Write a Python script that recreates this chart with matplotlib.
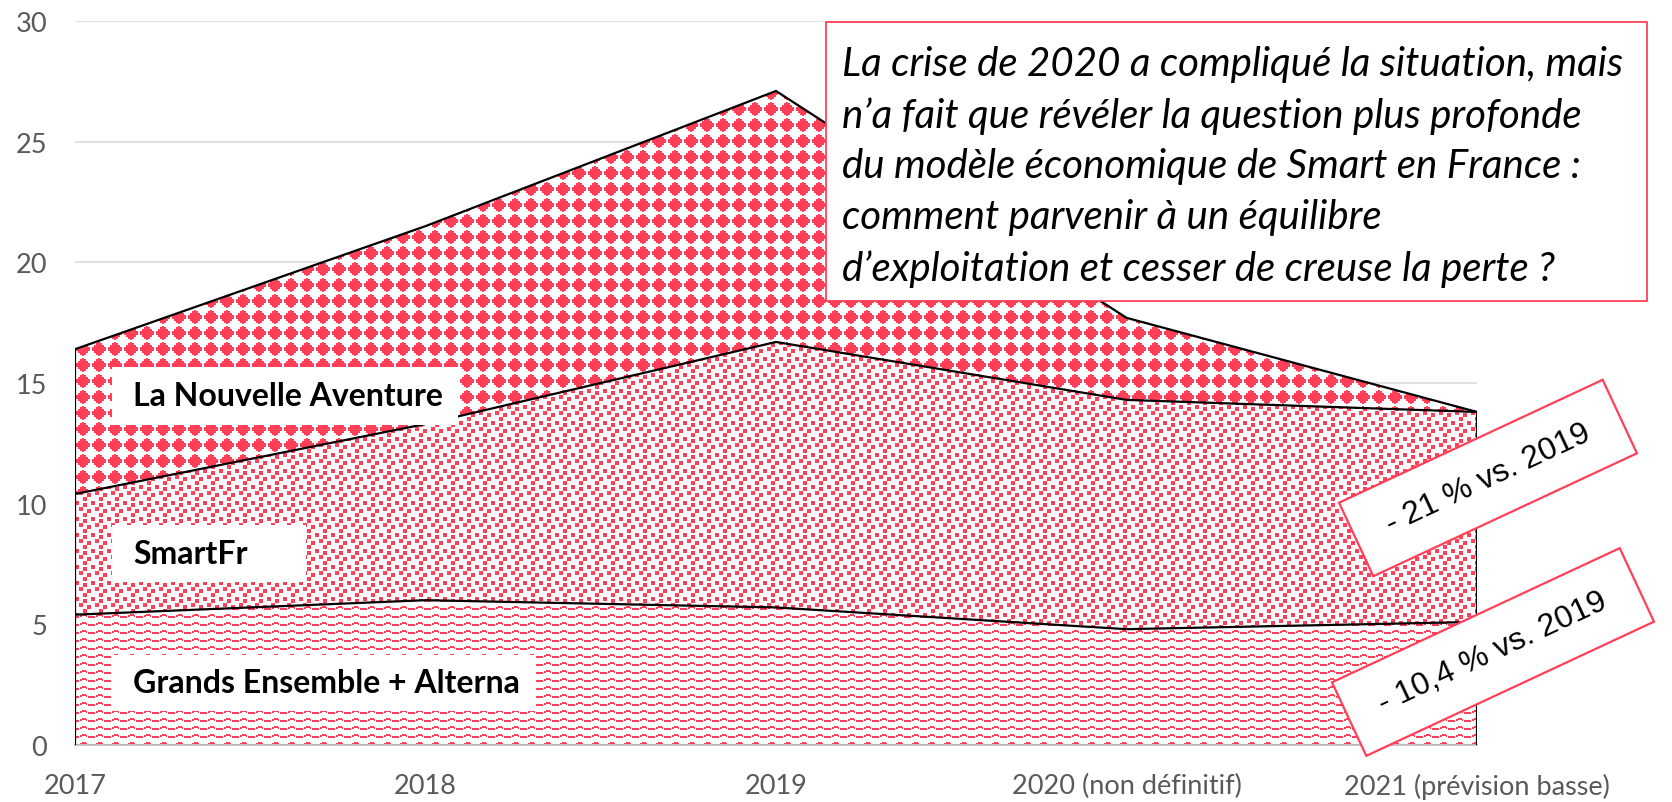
import numpy as np
import matplotlib.pyplot as plt
from matplotlib.patches import Rectangle

# data (millions, stacked)
years = ["2017", "2018", "2019", "2020 (non définitif)", "2021 (prévision basse)"]
grands_ensemble = [5.4, 6.0, 5.7, 4.8, 5.1]
smartfr = [5.0, 7.3, 11.0, 9.5, 8.7]
nouvelle_aventure = [6.0, 8.2, 10.4, 3.4, 0.0]
series_names = ["Grands Ensemble + Alterna", "SmartFr", "La Nouvelle Aventure"]
note = ("La crise de 2020 a compliqué la situation, mais\n"
        "n’a fait que révéler la question plus profonde\n"
        "du modèle économique de Smart en France :\n"
        "comment parvenir à un équilibre\n"
        "d’exploitation et cesser de creuse la perte ?")
callouts = ["- 21 % vs. 2019", "- 10,4 % vs. 2019"]

RED = "#FF4058"
W, H = 1672, 803
fig = plt.figure(figsize=(W / 100, H / 100), dpi=100)
ax_l, ax_r, ax_t, ax_b = 75, 1477, 22, 746
ax = fig.add_axes([ax_l / W, 1 - ax_b / H, (ax_r - ax_l) / W, (ax_b - ax_t) / H])


def px(x, y):
    return x / W, 1 - y / H


# fill textures (device pixels)
def diamond_tile():
    widths = [0, 2, 6, 6, 10, 10, 14, 14, 14, 14, 10, 10, 6, 6, 2, 0]
    t = np.zeros((16, 16), bool)
    for r, w in enumerate(widths):
        t[r, 8 - w // 2:8 + w // 2] = True
    return t


def confetti_tile():
    base = np.zeros((8, 8), bool)
    for r, c in [(0, 0), (1, 4), (3, 2), (4, 6), (6, 4)]:
        base[r:r + 2, c:c + 2] = True
    return np.kron(base, np.ones((2, 2), bool))


def wave_tile():
    t = np.zeros((8, 16), bool)
    offs = [2, 2, 2, 2, -1, 1, 1, 0, 0, 0, 0, 1, -1, 2, 2, 2]
    for c, o in enumerate(offs):
        if o >= 0:
            t[o + 1:o + 3, c] = True
    return t


def texture(tile, h, w):
    th, tw = tile.shape
    m = np.tile(tile, (h // th + 1, w // tw + 1))[:h, :w]
    img = np.ones((h, w, 3))
    img[m] = np.array([0xFF, 0x40, 0x58]) / 255
    return img


x = np.arange(len(years))
b0 = np.zeros(len(years))
b1 = b0 + np.array(grands_ensemble)
b2 = b1 + np.array(smartfr)
b3 = b2 + np.array(nouvelle_aventure)

aw, ah = ax_r - ax_l, ax_b - ax_t
for lo, hi, tile in [(b0, b1, wave_tile()), (b1, b2, confetti_tile()), (b2, b3, diamond_tile())]:
    coll = ax.fill_between(x, lo, hi, facecolor="none", edgecolor="none", zorder=2)
    im = ax.imshow(texture(tile, ah, aw), extent=(0, 4, 0, 30), aspect="auto",
                   interpolation="nearest", zorder=2)
    im.set_clip_path(coll.get_paths()[0], coll.get_transform())

for top in [b1, b2, b3]:
    ax.plot(x, top, color="black", lw=1.6, zorder=3, solid_joinstyle="miter")
ax.vlines([x[0], x[-1]], 0, [b3[0], b3[-1]], color="black", lw=1.6, zorder=3)

ax.set_xlim(0, 4)
ax.set_ylim(0, 30)
ax.set_yticks(range(0, 31, 5))
ax.set_xticks(x)
ax.set_xticklabels(years)
ax.grid(axis="y", color="#D9D9D9", lw=1.1, zorder=0)
ax.set_axisbelow(True)
for s in ["top", "right", "left"]:
    ax.spines[s].set_visible(False)
ax.spines["bottom"].set_color("#BFBFBF")
ax.spines["bottom"].set_linewidth(1.3)
ax.tick_params(length=0, labelsize=19.5, labelcolor="#595959", pad=20)
for lab in ax.get_xticklabels() + ax.get_yticklabels():
    lab.set_family("Lato")

# series labels
boxes = [(112, 656, 535, 712), (112, 526, 306, 583), (112, 368, 458, 426)]
for name, (x0, y0, x1, y1) in zip(series_names, boxes):
    fx0, fy1 = px(x0, y1)
    fig.patches.append(Rectangle((fx0, fy1), (x1 - x0) / W, (y1 - y0) / H,
                                 transform=fig.transFigure, facecolor="white",
                                 edgecolor="none", zorder=4))
    fig.text(*px(133, (y0 + y1) / 2), name, family="Lato", weight="bold",
             fontsize=23, va="center", ha="left", zorder=5)

# note box
fx0, fy1 = px(826, 302)
fig.patches.append(Rectangle((fx0, fy1), (1647 - 826) / W, (302 - 23) / H,
                             transform=fig.transFigure, facecolor="white",
                             edgecolor=RED, lw=1.3, zorder=4))
fig.text(*px(842, 167), note, family="Lato", style="italic", fontsize=29,
         va="center", ha="left", linespacing=1.45, zorder=5)

# rotated callouts
for txt, (cx, cy) in zip(callouts, [(1488, 479), (1493, 653)]):
    fig.text(*px(cx, cy), " " + txt + " ", family="Liberation Sans", fontsize=23,
             rotation=25, rotation_mode="anchor", ha="center", va="center", zorder=6,
             bbox=dict(boxstyle="square,pad=0.8", facecolor="white",
                       edgecolor=RED, lw=1.6))

fig.savefig("out.png", dpi=100)
